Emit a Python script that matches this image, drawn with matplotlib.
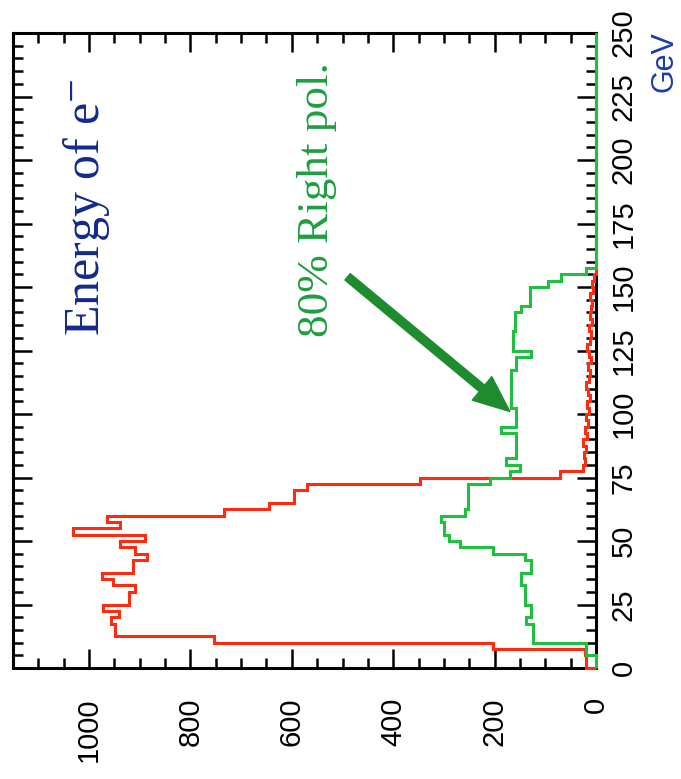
import numpy as np
import matplotlib
matplotlib.use("Agg")
import matplotlib.pyplot as plt
from matplotlib.ticker import MultipleLocator

# ---------------- data ----------------
bin_width = 2.5  # GeV
energy_edges = np.arange(0, 250 + bin_width, bin_width)

# red histogram (counts per 2.5 GeV bin, 0..250 GeV)
red_counts = [20, 20, 22, 204, 754, 949, 949, 957, 940, 972,
              922, 922, 909, 952, 975, 914, 914, 886, 909, 939,
              890, 1031, 939, 965, 734, 645, 596, 596, 570, 348,
              71, 26, 22, 24, 20, 26, 18, 22, 16, 20,
              14, 18, 12, 16, 20, 14, 12, 16, 10, 14,
              18, 12, 10, 14, 8, 12, 10, 8, 12, 6,
              8, 4] + [0] * 38

# green histogram (80% right polarisation)
green_counts = [0, 0, 20, 20, 125, 125, 125, 138, 128, 128,
                140, 140, 140, 148, 148, 128, 128, 140, 204, 269,
                289, 299, 299, 306, 259, 253, 253, 253, 253, 210,
                170, 150, 178, 158, 158, 158, 158, 188, 158, 158,
                158, 168, 168, 168, 168, 168, 168, 158, 158, 129,
                164, 164, 164, 160, 160, 160, 148, 131, 131, 131,
                95, 69, 20] + [0] * 37

energy_ticks = [0, 25, 50, 75, 100, 125, 150, 175, 200, 225, 250]
count_ticks = [0, 200, 400, 600, 800, 1000]

title_text = "Energy of e$^{-}$"
pol_text = "80% Right pol."
unit_text = "GeV"

# ---------------- figure ----------------
plt.rcParams['mathtext.fontset'] = 'stix'
fig = plt.figure(figsize=(6.81, 7.79), dpi=100)
ax = fig.add_axes([13 / 681, 1 - 668 / 779, 583 / 681, 635 / 779])

ax.stairs(red_counts, energy_edges, orientation='horizontal',
          color='#ff2a10', lw=2.2, zorder=3, clip_on=False)
ax.stairs(green_counts, energy_edges, orientation='horizontal',
          color='#1fbf3f', lw=2.2, zorder=4, clip_on=False)

ax.set_xlim(1150, 0)
ax.set_ylim(0, 250)

ax.set_xticks(count_ticks)
ax.set_xticklabels([str(v) for v in count_ticks])
ax.set_yticks(energy_ticks)
ax.set_yticklabels([str(v) for v in energy_ticks])
ax.xaxis.set_minor_locator(MultipleLocator(50))
ax.yaxis.set_minor_locator(MultipleLocator(5))

for s in ax.spines.values():
    s.set_linewidth(2.2)

ax.tick_params(which='both', direction='in', top=True, bottom=True,
               left=True, right=True, labelleft=False, labelright=True,
               width=1.8, colors='black')
ax.tick_params(which='major', length=14)
ax.tick_params(which='minor', length=7)
ax.tick_params(axis='x', pad=21, labelsize=21)
ax.tick_params(axis='y', pad=10, labelsize=21)

for lab in ax.get_xticklabels():
    lab.set_rotation(90)
    lab.set_va('top')
    lab.set_ha('center')
    lab.set_fontfamily('Liberation Sans')
for lab in ax.get_yticklabels():
    lab.set_rotation(90)
    lab.set_va('center')
    lab.set_ha('left')
    lab.set_fontfamily('Liberation Sans')

fig.text(664 / 681, 1 - 62 / 779, unit_text, rotation=90, ha='center',
         va='center', fontsize=22, color='#1a3ab0', family='Liberation Sans')

fig.text(87 / 681, 1 - 207 / 779, title_text, rotation=90, ha='center',
         va='center', fontsize=36, color='#142a8c', family='Liberation Serif')

fig.text(317 / 681, 1 - 200 / 779, pol_text, rotation=90, ha='center',
         va='center', fontsize=32.5, color='#1e9e3e', family='Liberation Serif')

ax.annotate('', xy=(170, 101), xytext=(490, 154),
            arrowprops=dict(arrowstyle='simple,head_length=1.3,head_width=1.1,tail_width=0.3',
                            fc='#1e8c2e', ec='#1e8c2e', shrinkA=0, shrinkB=0,
                            mutation_scale=20))

fig.savefig('out.png', dpi=100)
